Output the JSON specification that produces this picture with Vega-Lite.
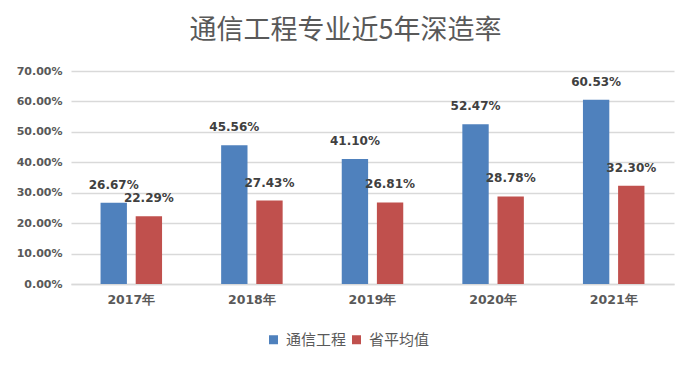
{
  "$schema": "https://vega.github.io/schema/vega-lite/v6.json",
  "width": 603,
  "height": 213,
  "autosize": {"type": "none"},
  "padding": {"left": 71, "top": 71, "right": 20, "bottom": 82},
  "background": "white",
  "title": {
    "text": "通信工程专业近5年深造率",
    "font": "Noto Sans CJK SC",
    "fontSize": 27,
    "fontWeight": "normal",
    "color": "#595959",
    "anchor": "middle",
    "dx": -27,
    "offset": 20
  },
  "data": {
    "values": [
      {"year": "2017年", "series": "通信工程", "rate": 0.2667},
      {"year": "2017年", "series": "省平均值", "rate": 0.2229},
      {"year": "2018年", "series": "通信工程", "rate": 0.4556},
      {"year": "2018年", "series": "省平均值", "rate": 0.2743},
      {"year": "2019年", "series": "通信工程", "rate": 0.4110},
      {"year": "2019年", "series": "省平均值", "rate": 0.2681},
      {"year": "2020年", "series": "通信工程", "rate": 0.5247},
      {"year": "2020年", "series": "省平均值", "rate": 0.2878},
      {"year": "2021年", "series": "通信工程", "rate": 0.6053},
      {"year": "2021年", "series": "省平均值", "rate": 0.3230}
    ]
  },
  "encoding": {
    "x": {
      "field": "year",
      "type": "nominal",
      "title": null,
      "scale": {"paddingInner": 0.49, "paddingOuter": 0.245},
      "axis": {
        "labelAngle": 0,
        "labelFont": "DejaVu Sans",
        "labelFontWeight": "bold",
        "labelFontSize": 12.5,
        "labelColor": "#595959",
        "labelPadding": 9,
        "ticks": false,
        "domainColor": "#d9d9d9",
        "domainWidth": 1.5
      }
    },
    "xOffset": {
      "field": "series",
      "type": "nominal",
      "scale": {"domain": ["通信工程", "省平均值"], "paddingInner": 0.25, "paddingOuter": 0}
    },
    "y": {
      "field": "rate",
      "type": "quantitative",
      "title": null,
      "scale": {"domain": [0, 0.7], "nice": false},
      "axis": {
        "format": ".2%",
        "values": [0, 0.1, 0.2, 0.3, 0.4, 0.5, 0.6, 0.7],
        "labelFont": "DejaVu Sans",
        "labelFontWeight": "bold",
        "labelFontSize": 11,
        "labelColor": "#595959",
        "labelPadding": 9,
        "ticks": false,
        "domain": false,
        "gridColor": "#d9d9d9",
        "gridWidth": 1.5
      }
    }
  },
  "layer": [
    {
      "mark": {"type": "bar"},
      "encoding": {
        "color": {
          "field": "series",
          "type": "nominal",
          "scale": {"domain": ["通信工程", "省平均值"], "range": ["#4F81BD", "#C0504D"]},
          "legend": {
            "title": null,
            "orient": "none",
            "legendX": 195,
            "legendY": 261,
            "direction": "horizontal",
            "symbolType": "square",
            "symbolSize": 81,
            "symbolStrokeWidth": 0,
            "labelFont": "Noto Sans CJK SC",
            "labelFontSize": 15,
            "labelColor": "#595959",
            "columnPadding": 2,
            "labelOffset": 5
          }
        }
      }
    },
    {
      "mark": {
        "type": "text",
        "baseline": "middle",
        "dy": -18,
        "font": "DejaVu Sans",
        "fontWeight": "bold",
        "fontSize": 12,
        "color": "#404040"
      },
      "encoding": {
        "text": {"field": "rate", "type": "quantitative", "format": ".2%"}
      }
    }
  ],
  "config": {"view": {"stroke": null}}
}
